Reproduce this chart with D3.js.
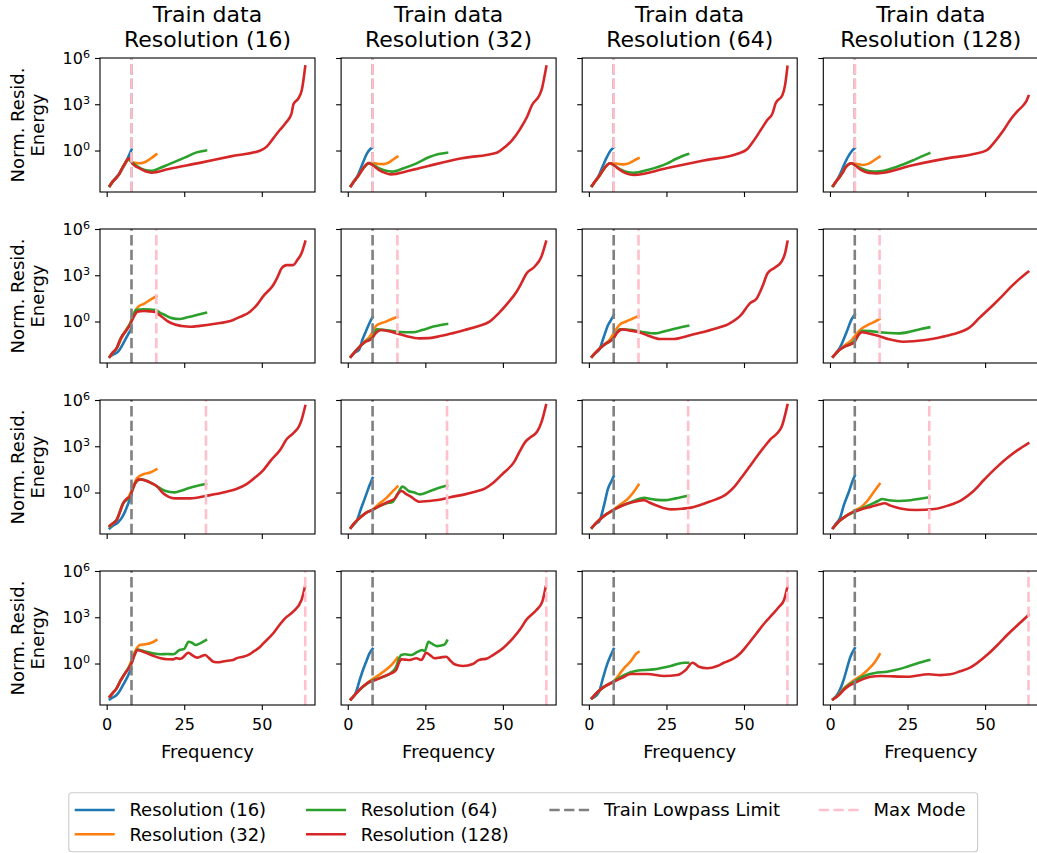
<!DOCTYPE html>
<html>
<head>
<meta charset="utf-8">
<script src="https://cdn.jsdelivr.net/npm/d3@7"></script>
<style>
  body { margin: 0; background: #fff; }
  text { font-family: "DejaVu Sans", sans-serif; fill: #000; }
</style>
</head>
<body>
<svg id="chart" width="1037" height="853"></svg>
<script>
// Rows: model max mode; columns: resolution of the training data.
const maxModes = [8, 16, 32, 64];
const trainResolutions = [16, 32, 64, 128];
const evalResolutions = [16, 32, 64, 128];
const seriesColors = ["#1f77b4", "#ff7f0e", "#2ca02c", "#d62728"];
const lowpassLimit = 8;
const xTickValues = [0, 25, 50];
const yTickValues = [1e0, 1e3, 1e6];
const xLimits = [-2.15, 67.15];
const yLimits = [Math.pow(10, -2.69), 1e6];

// Each series: [frequency, log10 of normalized residual energy]
// ---- max mode 8 ----
const mode8_train16_eval16 = [[1,-2.3],[2,-2.0],[3,-1.75],[4,-1.5],[5,-1.2],[6,-0.85],[7,-0.4],[8,0.05]];
const mode8_train16_eval32 = [[1,-2.3],[2,-2.0],[3,-1.8],[4,-1.55],[5,-1.15],[6,-0.85],[7,-0.6],[8,-0.72],[9,-0.8],[10.5,-0.83],[12,-0.78],[14,-0.55],[16,-0.25]];
const mode8_train16_eval64 = [[1,-2.3],[2,-2.0],[3,-1.8],[4,-1.55],[5,-1.15],[6,-0.8],[7,-0.55],[8,-0.75],[10,-1.05],[12,-1.25],[14.5,-1.32],[17,-1.15],[20,-0.9],[25.8,-0.4],[29,-0.12],[32,0.0]];
const mode8_train16_eval128 = [[1,-2.28],[2,-2.0],[3,-1.8],[4,-1.55],[5,-1.15],[6,-0.8],[7,-0.52],[7.5,-0.5],[8,-0.75],[9,-0.98],[10.7,-1.16],[12.5,-1.35],[14.5,-1.44],[20,-1.2],[30,-0.8],[40,-0.38],[49.4,-0.01],[51.6,0.25],[53.7,0.79],[55.8,1.33],[58,1.86],[59.6,2.41],[60.2,3.0],[61.8,3.38],[62.9,3.92],[64,5.45]];

const mode8_train32_eval16 = [[1,-2.3],[2,-2.0],[3,-1.7],[4.6,-0.94],[6.2,-0.18],[7.2,0.08],[8,0.2]];
const mode8_train32_eval32 = [[1,-2.3],[2,-2.0],[3,-1.75],[4,-1.45],[5,-1.15],[6.8,-0.82],[8,-0.8],[10,-0.87],[11.6,-0.88],[13,-0.8],[14.5,-0.6],[16,-0.4]];
const mode8_train32_eval64 = [[1,-2.3],[2,-2.0],[3,-1.75],[4,-1.45],[5,-1.15],[6.8,-0.82],[8,-0.92],[10,-1.15],[12,-1.3],[14.3,-1.37],[18,-1.15],[22,-0.85],[26.1,-0.44],[29.3,-0.23],[32,-0.14]];
const mode8_train32_eval128 = [[1,-2.3],[2,-2.0],[3,-1.75],[4,-1.45],[5,-1.15],[6,-0.9],[6.8,-0.82],[8,-0.95],[10,-1.25],[12,-1.45],[13.8,-1.55],[20,-1.3],[26,-1.0],[36.8,-0.5],[48,-0.14],[50.8,0.25],[53,0.68],[55.7,1.44],[57.8,2.19],[59.4,2.95],[61.8,3.6],[62.6,4.03],[63.3,4.7],[64,5.45]];

const mode8_train64_eval16 = [[1,-2.3],[2,-2.0],[3,-1.7],[4.5,-1.0],[6,-0.35],[7,0.0],[8,0.2]];
const mode8_train64_eval32 = [[1,-2.3],[2,-2.0],[3,-1.75],[4,-1.45],[5,-1.15],[6.8,-0.83],[8,-0.83],[10,-0.88],[11.3,-0.9],[13,-0.82],[14.5,-0.65],[16,-0.5]];
const mode8_train64_eval64 = [[1,-2.3],[2,-2.0],[3,-1.75],[4,-1.45],[5,-1.15],[6.8,-0.83],[8,-0.95],[10,-1.2],[12,-1.38],[14.5,-1.44],[18.9,-1.26],[25.3,-0.83],[28,-0.55],[30,-0.37],[32,-0.23]];
const mode8_train64_eval128 = [[1,-2.28],[2,-2.0],[3,-1.75],[4,-1.45],[5,-1.15],[6,-0.92],[6.8,-0.83],[8,-0.95],[10,-1.25],[12,-1.48],[14.5,-1.59],[25,-1.15],[37,-0.65],[48.4,-0.18],[51,0.08],[53,0.6],[55.4,1.33],[57.5,1.98],[59.2,2.41],[60.2,3.06],[62.4,3.6],[63.2,4.2],[64,5.43]];

const mode8_train128_eval16 = [[1,-2.3],[2,-2.0],[3,-1.65],[4.5,-0.95],[6,-0.35],[7,-0.05],[8,0.16]];
const mode8_train128_eval32 = [[1,-2.3],[2,-2.0],[3,-1.75],[4,-1.45],[5,-1.1],[6.9,-0.83],[8,-0.85],[9.5,-0.9],[10.6,-0.94],[12.5,-0.85],[14.5,-0.6],[16,-0.4]];
const mode8_train128_eval64 = [[1,-2.3],[2,-2.0],[3,-1.75],[4,-1.45],[5,-1.1],[6.9,-0.83],[8,-0.95],[10,-1.15],[12.5,-1.33],[15,-1.37],[21.6,-1.05],[27,-0.62],[30,-0.35],[32,-0.18]];
const mode8_train128_eval128 = [[1,-2.28],[2,-2.0],[3,-1.75],[4,-1.45],[5,-1.1],[6,-0.9],[6.9,-0.83],[8,-0.95],[10,-1.25],[12.5,-1.45],[15.2,-1.48],[27,-0.94],[37.7,-0.51],[46.3,-0.23],[50.6,0.03],[52.7,0.47],[56,1.33],[58.1,1.98],[60.3,2.52],[62.4,2.95],[63.3,3.2],[64,3.53]];

// ---- max mode 16 ----
const mode16_train16_eval16 = [[1,-2.28],[2,-2.15],[3.7,-1.96],[5,-1.55],[5.9,-1.2],[7,-0.8],[8,-0.44]];
const mode16_train16_eval32 = [[1,-2.28],[2,-2.0],[3.2,-1.74],[5,-1.0],[6.4,-0.5],[7.5,-0.15],[8,0.1],[9,0.6],[10.2,0.96],[12,1.15],[14,1.4],[16,1.65]];
const mode16_train16_eval64 = [[1,-2.28],[2,-2.0],[3.2,-1.74],[4.5,-1.1],[6.4,-0.55],[8,0.05],[9.4,0.75],[12,0.8],[15.8,0.75],[17,0.6],[18.8,0.42],[21,0.22],[23.6,0.16],[26,0.27],[27.9,0.36],[30,0.47],[32,0.57]];
const mode16_train16_eval128 = [[1,-2.28],[2,-2.0],[3.2,-1.74],[4.5,-1.1],[6.4,-0.55],[7.5,-0.23],[8,0.0],[9,0.4],[9.9,0.64],[12,0.68],[14,0.66],[15.8,0.6],[17,0.42],[18.5,0.2],[19.6,0.03],[22,-0.2],[24.2,-0.29],[27,-0.34],[30,-0.28],[34.4,-0.16],[40.8,0.1],[43,0.3],[46.2,0.64],[48.5,1.1],[50.5,1.65],[53.7,2.37],[55,2.85],[56.4,3.45],[58,3.66],[60.1,3.66],[61.5,4.0],[62.8,4.42],[64,5.18]];

const mode16_train32_eval16 = [[1,-2.28],[2,-2.05],[3.6,-1.85],[4.7,-1.2],[5.8,-0.66],[7,-0.1],[8,0.3]];
const mode16_train32_eval32 = [[1,-2.28],[2.8,-1.85],[4,-1.6],[5.7,-1.25],[7,-1.0],[8,-0.66],[9.4,-0.23],[12.3,-0.01],[14,0.15],[16,0.31]];
const mode16_train32_eval64 = [[1,-2.28],[2.8,-1.85],[4,-1.6],[5.7,-1.31],[8,-1.0],[9.4,-0.51],[12,-0.55],[15.9,-0.66],[21,-0.7],[24,-0.55],[27.6,-0.33],[30,-0.22],[32,-0.16]];
const mode16_train32_eval128 = [[1,-2.28],[2.8,-1.85],[4,-1.6],[5.7,-1.31],[7,-1.2],[8,-1.05],[9,-0.75],[10.8,-0.55],[13,-0.62],[15.9,-0.77],[19,-0.95],[23.2,-1.09],[26,-1.08],[29,-0.98],[33,-0.8],[37.7,-0.55],[42,-0.3],[45.7,-0.01],[48.6,0.53],[51.5,1.18],[54.4,1.93],[56,2.5],[57.6,3.12],[60.2,3.55],[62.4,4.2],[63.9,5.18]];

const mode16_train64_eval16 = [[1,-2.28],[2,-2.05],[3.3,-1.85],[4.8,-1.0],[6.2,-0.23],[7.3,0.15],[8,0.42]];
const mode16_train64_eval32 = [[1,-2.28],[3,-1.85],[5,-1.5],[7,-1.1],[8,-0.75],[9.8,-0.23],[12,0.0],[14,0.18],[16,0.36]];
const mode16_train64_eval64 = [[1,-2.28],[3,-1.85],[5,-1.5],[7,-1.25],[8,-1.05],[10,-0.5],[14,-0.55],[18,-0.7],[21.4,-0.77],[25,-0.6],[28,-0.45],[32,-0.27]];
const mode16_train64_eval128 = [[1,-2.28],[3,-1.85],[5,-1.5],[7,-1.25],[8,-1.09],[9,-0.75],[10.9,-0.51],[13,-0.58],[15.6,-0.66],[19,-0.9],[22.9,-1.13],[27.2,-1.13],[33,-0.87],[40,-0.5],[45.4,-0.12],[49,0.42],[51.9,1.18],[54.1,1.5],[56,2.3],[57.6,3.13],[60,3.5],[62.1,3.88],[63.2,4.4],[64,5.18]];

const mode16_train128_eval16 = [[1,-2.28],[2,-2.05],[3.2,-1.7],[5.4,-0.66],[7,0.15],[8,0.45]];
const mode16_train128_eval32 = [[1,-2.28],[3,-1.85],[5,-1.5],[7,-1.2],[8,-0.95],[9.7,-0.55],[12,-0.25],[14,-0.05],[16,0.16]];
const mode16_train128_eval64 = [[1,-2.28],[3,-1.85],[5,-1.6],[7,-1.4],[8,-1.25],[10.4,-0.6],[13,-0.62],[16,-0.7],[22,-0.77],[26,-0.65],[29,-0.5],[32,-0.38]];
const mode16_train128_eval128 = [[1,-2.28],[3,-1.85],[5,-1.6],[7,-1.45],[8,-1.31],[9,-0.9],[10.4,-0.7],[12.5,-0.78],[15.5,-0.92],[19,-1.15],[23.5,-1.31],[30.7,-1.2],[35,-1.05],[39.5,-0.83],[45.3,-0.34],[48,0.2],[52.6,1.07],[55,1.55],[58.4,2.26],[61,2.75],[63.9,3.23]];

// ---- max mode 32 ----
const mode32_train16_eval16 = [[1,-2.32],[2,-2.15],[3.7,-1.93],[5,-1.6],[5.9,-1.24],[7,-0.7],[8,-0.16]];
const mode32_train16_eval32 = [[1,-2.2],[2,-2.0],[3.2,-1.78],[5.3,-0.7],[7,-0.3],[8,0.1],[9.8,0.94],[12,1.2],[14,1.3],[16,1.5]];
const mode32_train16_eval64 = [[1,-2.2],[2,-2.0],[3.2,-1.78],[5.3,-0.7],[7.5,-0.27],[8.3,0.16],[9.5,0.7],[11,0.85],[13,0.75],[16.1,0.42],[18.2,0.16],[20,0.05],[22,0.01],[24,0.12],[26.3,0.27],[29,0.42],[32,0.55]];
const mode32_train16_eval128 = [[1,-2.16],[2,-2.0],[3.2,-1.78],[4.2,-1.3],[5.3,-0.7],[6.5,-0.4],[7.5,-0.27],[8.3,0.16],[9.2,0.6],[10.4,0.85],[12.9,0.75],[14.5,0.6],[16.1,0.42],[18.2,-0.05],[20,-0.28],[22,-0.38],[26.9,-0.38],[32.2,-0.21],[38.6,0.05],[42,0.25],[45.1,0.55],[48,1.0],[50.5,1.46],[53,2.1],[55.9,2.76],[58,3.45],[60.1,3.84],[62,4.3],[62.8,4.7],[64,5.61]];

const mode32_train32_eval16 = [[1,-2.28],[2,-2.05],[2.8,-1.89],[4,-1.2],[5.5,-0.38],[7,0.45],[8,0.95]];
const mode32_train32_eval32 = [[1,-2.28],[3,-1.8],[6,-1.3],[8,-1.1],[10,-0.75],[12.3,-0.38],[14,-0.02],[16,0.38]];
const mode32_train32_eval64 = [[1,-2.28],[3,-1.8],[6,-1.3],[8,-1.13],[10,-0.9],[12.5,-0.7],[14.5,-0.6],[16,-0.1],[17.7,0.38],[19.6,0.1],[21.5,0.0],[23.2,-0.12],[26,0.05],[29,0.28],[32,0.45]];
const mode32_train32_eval128 = [[1,-2.28],[2,-2.0],[3,-1.8],[4.3,-1.57],[6,-1.3],[7.9,-1.13],[10,-0.9],[13,-0.6],[15.2,-0.38],[16.5,0.0],[17.4,0.1],[18.5,-0.05],[20.3,-0.27],[23.2,-0.6],[26,-0.55],[29,-0.49],[33,-0.3],[37.7,-0.12],[41,0.05],[44.3,0.27],[47,0.65],[50.1,1.25],[53.7,2.0],[55.5,2.7],[57.3,3.3],[59,3.6],[61,3.94],[62.5,4.6],[63.9,5.67]];

const mode32_train64_eval16 = [[1,-2.28],[2,-2.05],[3.3,-1.89],[4.8,-0.9],[6.2,0.27],[7.3,0.75],[8,1.05]];
const mode32_train64_eval32 = [[1,-2.28],[3,-1.85],[5,-1.5],[8,-1.1],[10,-0.8],[12.7,-0.38],[14.5,0.05],[16,0.5]];
const mode32_train64_eval64 = [[1,-2.28],[3,-1.85],[5,-1.5],[8,-1.13],[10,-0.9],[12.7,-0.7],[15,-0.5],[17.8,-0.34],[20,-0.42],[23,-0.49],[25,-0.49],[28,-0.38],[32,-0.21]];
const mode32_train64_eval128 = [[1,-2.28],[3,-1.85],[5,-1.5],[8,-1.13],[10,-0.92],[12.7,-0.7],[15,-0.58],[17.8,-0.49],[19.5,-0.65],[21.4,-0.81],[24,-1.0],[26.5,-1.09],[30,-1.05],[33,-0.98],[38.8,-0.6],[44.7,-0.05],[47,0.4],[49,0.92],[51.5,1.6],[54.1,2.32],[57,3.08],[58.5,3.45],[60.7,3.84],[62.2,4.3],[64,5.67]];

const mode32_train128_eval16 = [[1,-2.3],[2,-2.0],[3.2,-1.67],[4.5,-0.8],[6.1,0.05],[7.2,0.7],[8,1.09]];
const mode32_train128_eval32 = [[1,-2.3],[3,-1.85],[5,-1.55],[7,-1.3],[8,-1.15],[10,-0.95],[12,-0.55],[14,0.0],[16,0.55]];
const mode32_train128_eval64 = [[1,-2.3],[3,-1.85],[5,-1.55],[8,-1.24],[10,-1.05],[13.3,-0.75],[15.5,-0.55],[16.8,-0.42],[19,-0.5],[22,-0.55],[26,-0.5],[29,-0.4],[32,-0.31]];
const mode32_train128_eval128 = [[1,-2.3],[3,-1.85],[5,-1.55],[6.5,-1.35],[8,-1.24],[10,-1.1],[13.3,-0.92],[15.5,-0.8],[17.6,-0.7],[19.5,-0.85],[22.7,-1.03],[27.8,-1.13],[33.6,-1.07],[38,-0.85],[42.4,-0.49],[46,0.05],[49.6,0.81],[53,1.5],[57.6,2.32],[60.5,2.75],[63.9,3.19]];

// ---- max mode 64 ----
const mode64_train16_eval16 = [[1,-2.32],[2,-2.2],[3.2,-2.04],[4.3,-1.75],[5.3,-1.39],[6.5,-0.95],[7.5,-0.53],[8,-0.35]];
const mode64_train16_eval32 = [[1,-2.15],[2,-1.9],[3.2,-1.61],[4.5,-1.1],[5.9,-0.64],[7,-0.3],[8,0.2],[9.4,0.88],[10.7,1.2],[12.5,1.25],[14,1.31],[15.5,1.45],[16,1.52]];
const mode64_train16_eval64 = [[1,-2.15],[2,-1.9],[3.2,-1.61],[4.5,-1.1],[5.9,-0.64],[8,0.05],[9.9,0.9],[12,0.8],[14.5,0.68],[17.4,0.6],[19.5,0.62],[21.5,0.6],[23.5,0.88],[25,0.95],[26.4,1.41],[27.5,1.35],[28.7,1.2],[30.1,1.31],[31,1.4],[32,1.52]];
const mode64_train16_eval128 = [[1,-2.15],[2,-1.9],[3.2,-1.61],[4.5,-1.1],[5.9,-0.64],[7,-0.35],[8,0.01],[9,0.55],[9.9,0.88],[11.5,0.78],[13.1,0.66],[15,0.5],[17.4,0.34],[19.5,0.28],[21.5,0.27],[22.5,0.35],[23.5,0.3],[24.2,0.34],[26.4,0.7],[27.5,0.55],[29.2,0.38],[30.5,0.47],[31.7,0.55],[33,0.35],[34.4,0.12],[36,0.08],[37.1,0.12],[39,0.18],[40.8,0.23],[42,0.35],[44,0.44],[46,0.6],[47.3,0.77],[49,1.0],[50.5,1.31],[53.7,1.96],[55.5,2.45],[57.5,2.93],[60.1,3.36],[62.8,4.12],[63.9,4.98]];

const mode64_train32_eval16 = [[1,-2.32],[2,-2.1],[2.7,-1.83],[3.8,-1.1],[4.9,-0.42],[6,0.15],[7,0.66],[8,0.95]];
const mode64_train32_eval32 = [[1,-2.32],[2.7,-1.93],[5.5,-1.4],[7,-1.15],[8,-1.0],[10,-0.75],[12.9,-0.31],[14.5,0.0],[16,0.38]];
const mode64_train32_eval64 = [[1,-2.32],[2.7,-1.93],[5.5,-1.4],[8,-1.1],[11.5,-0.86],[14,-0.6],[15.6,-0.21],[16.5,0.3],[17.2,0.55],[18.5,0.6],[20.5,0.55],[22.6,0.77],[24,0.88],[24.8,0.8],[26,1.41],[27,1.3],[28.7,1.13],[30.8,1.2],[31.5,1.3],[32,1.48]];
const mode64_train32_eval128 = [[1,-2.32],[2,-2.1],[2.7,-1.93],[4,-1.65],[5.5,-1.4],[7,-1.18],[8.5,-1.1],[10.2,-0.96],[12,-0.8],[14,-0.64],[15.6,-0.42],[16.5,0.05],[17.2,0.27],[18.5,0.25],[19.9,0.23],[22.1,0.34],[23.7,0.23],[25.3,0.7],[26.5,0.55],[28,0.34],[30,0.4],[31.8,0.44],[33,0.2],[34.4,-0.05],[37.1,-0.16],[40.3,-0.03],[42,0.2],[43,0.27],[44.5,0.3],[46.8,0.55],[50,0.99],[53.2,1.63],[55.5,2.2],[57.5,2.82],[60.8,3.47],[62.7,4.01],[63.8,4.98]];

const mode64_train64_eval16 = [[1,-2.25],[1.6,-2.2],[3.3,-1.83],[4.6,-0.9],[6,0.01],[7.2,0.6],[8,0.95]];
const mode64_train64_eval32 = [[1,-2.25],[2.9,-1.83],[5,-1.5],[8,-1.15],[11.3,-0.31],[13.5,0.15],[15.4,0.66],[16,0.75]];
const mode64_train64_eval64 = [[1,-2.25],[2.9,-1.83],[5,-1.5],[8,-1.15],[11.3,-0.75],[15.4,-0.47],[21,-0.38],[26.4,-0.16],[30.7,0.05],[32,0.05]];
const mode64_train64_eval128 = [[1,-2.25],[2.9,-1.83],[5,-1.5],[8.1,-1.18],[10.5,-0.95],[13.5,-0.68],[18.9,-0.68],[24.2,-0.81],[28.5,-0.75],[31.2,-0.42],[33.4,0.05],[35.5,-0.21],[38.2,-0.31],[41.4,-0.16],[43.5,0.05],[46.8,0.34],[49,0.7],[51.1,1.2],[54,1.95],[57,2.71],[59,3.15],[61.3,3.68],[62.9,4.12],[64,4.98]];

const mode64_train128_eval16 = [[1,-2.32],[2.9,-1.83],[4.4,-1.07],[5.5,-0.3],[6.6,0.44],[8,0.99]];
const mode64_train128_eval32 = [[1,-2.32],[2.9,-2.0],[4.5,-1.6],[6.6,-1.25],[7.8,-1.07],[10.3,-0.75],[12.5,-0.35],[14.5,0.1],[16,0.6]];
const mode64_train128_eval64 = [[1,-2.32],[2.9,-2.0],[5,-1.55],[8,-1.15],[11.9,-0.75],[14.5,-0.62],[18.4,-0.53],[21,-0.42],[24.2,-0.25],[28,0.0],[32,0.23]];
const mode64_train128_eval128 = [[1,-2.32],[2.9,-2.04],[4.5,-1.7],[6.6,-1.39],[8.8,-1.18],[13.1,-0.86],[16.3,-0.81],[24.9,-0.86],[31.8,-0.7],[35.6,-0.75],[38.8,-0.7],[42,-0.5],[45.3,-0.25],[50.6,0.55],[54,1.2],[57.1,1.85],[60,2.4],[64,3.15]];

// Lookup of all series by name.
const seriesTable = {
  mode8_train16_eval16, mode8_train16_eval32, mode8_train16_eval64, mode8_train16_eval128,
  mode8_train32_eval16, mode8_train32_eval32, mode8_train32_eval64, mode8_train32_eval128,
  mode8_train64_eval16, mode8_train64_eval32, mode8_train64_eval64, mode8_train64_eval128,
  mode8_train128_eval16, mode8_train128_eval32, mode8_train128_eval64, mode8_train128_eval128,
  mode16_train16_eval16, mode16_train16_eval32, mode16_train16_eval64, mode16_train16_eval128,
  mode16_train32_eval16, mode16_train32_eval32, mode16_train32_eval64, mode16_train32_eval128,
  mode16_train64_eval16, mode16_train64_eval32, mode16_train64_eval64, mode16_train64_eval128,
  mode16_train128_eval16, mode16_train128_eval32, mode16_train128_eval64, mode16_train128_eval128,
  mode32_train16_eval16, mode32_train16_eval32, mode32_train16_eval64, mode32_train16_eval128,
  mode32_train32_eval16, mode32_train32_eval32, mode32_train32_eval64, mode32_train32_eval128,
  mode32_train64_eval16, mode32_train64_eval32, mode32_train64_eval64, mode32_train64_eval128,
  mode32_train128_eval16, mode32_train128_eval32, mode32_train128_eval64, mode32_train128_eval128,
  mode64_train16_eval16, mode64_train16_eval32, mode64_train16_eval64, mode64_train16_eval128,
  mode64_train32_eval16, mode64_train32_eval32, mode64_train32_eval64, mode64_train32_eval128,
  mode64_train64_eval16, mode64_train64_eval32, mode64_train64_eval64, mode64_train64_eval128,
  mode64_train128_eval16, mode64_train128_eval32, mode64_train128_eval64, mode64_train128_eval128
};

// ---- layout ----
const svg = d3.select("#chart");
const panelW = 215, panelH = 134;
const colStep = 241.1, rowStep = 171;
const firstLeft = 100, firstTop = 58;
const lineWidth = 2.6;
const dashPattern = "10.3,4.4";

const FONT_TITLE = 22, FONT_LABEL = 18, FONT_TICK = 16, FONT_LEGEND = 18;

maxModes.forEach((mode, r) => {
  trainResolutions.forEach((train, c) => {
    const left = firstLeft + c * colStep;
    const top = firstTop + r * rowStep;
    const x = d3.scaleLinear().domain(xLimits).range([left, left + panelW]);
    const y = d3.scaleLog().domain(yLimits).range([top + panelH, top]);

    const g = svg.append("g");

    // curves
    const line = d3.line()
      .x(d => x(d[0]))
      .y(d => y(Math.pow(10, d[1])))
      .curve(d3.curveMonotoneX);

    evalResolutions.forEach((res, k) => {
      const data = seriesTable[`mode${mode}_train${train}_eval${res}`];
      g.append("path")
        .datum(data)
        .attr("d", line)
        .attr("fill", "none")
        .attr("stroke", seriesColors[k])
        .attr("stroke-width", lineWidth)
        .attr("stroke-linejoin", "round")
        .attr("stroke-linecap", "square");
    });

    // vertical markers: training low-pass limit and model max mode
    [[lowpassLimit, "#808080"], [mode, "#ffc0cb"]].forEach(([fx, col]) => {
      g.append("line")
        .attr("x1", x(fx)).attr("x2", x(fx))
        .attr("y1", top + panelH).attr("y2", top)
        .attr("stroke", col)
        .attr("stroke-width", lineWidth)
        .attr("stroke-dasharray", dashPattern);
    });

    // x axis
    const xAxis = d3.axisBottom(x).tickValues(xTickValues).tickSize(5).tickPadding(8.5).tickSizeOuter(0);
    if (r < maxModes.length - 1) xAxis.tickFormat(() => "");
    const gx = g.append("g").attr("transform", `translate(0,${top + panelH})`).call(xAxis);
    gx.select(".domain").remove();
    gx.selectAll(".tick line").attr("stroke", "#000").attr("stroke-width", 1.1);
    gx.selectAll(".tick text").attr("font-size", FONT_TICK).attr("font-family", "DejaVu Sans").attr("fill", "#000");

    // y axis
    const yAxis = d3.axisLeft(y).tickValues(yTickValues).tickSize(5).tickPadding(5).tickSizeOuter(0);
    yAxis.tickFormat(c === 0 ? (d => String(d)) : (() => ""));
    const gy = g.append("g").attr("transform", `translate(${left},0)`).call(yAxis);
    gy.select(".domain").remove();
    gy.selectAll(".tick line").attr("stroke", "#000").attr("stroke-width", 1.1);
    if (c === 0) {
      gy.selectAll(".tick text").each(function(d) {
        const t = d3.select(this);
        t.text("10").attr("font-size", FONT_TICK).attr("font-family", "DejaVu Sans").attr("fill", "#000");
        t.append("tspan")
          .attr("dy", "-0.52em")
          .attr("font-size", "0.7em")
          .text(Math.round(Math.log10(d)));
      });
    }

    // frame
    g.append("rect")
      .attr("x", left).attr("y", top)
      .attr("width", panelW).attr("height", panelH)
      .attr("fill", "none").attr("stroke", "#000").attr("stroke-width", 1.1);

    // column titles
    if (r === 0) {
      const cx = left + panelW / 2;
      g.append("text").attr("x", cx).attr("y", 21.7).attr("text-anchor", "middle")
        .attr("font-size", FONT_TITLE).text("Train data");
      g.append("text").attr("x", cx).attr("y", 46.7).attr("text-anchor", "middle")
        .attr("font-size", FONT_TITLE).text(`Resolution (${train})`);
    }
    // y label
    if (c === 0) {
      const cy = top + panelH / 2;
      const lab = g.append("text")
        .attr("transform", `translate(24,${cy}) rotate(-90)`)
        .attr("text-anchor", "middle")
        .attr("font-size", FONT_LABEL);
      lab.append("tspan").attr("x", 0).attr("y", 0).text("Norm. Resid.");
      lab.append("tspan").attr("x", 0).attr("y", 20).text("Energy");
    }
    // x label
    if (r === maxModes.length - 1) {
      g.append("text").attr("x", left + panelW / 2).attr("y", 757.5)
        .attr("text-anchor", "middle").attr("font-size", FONT_LABEL).text("Frequency");
    }
  });
});

// ---- legend (4 columns, filled column by column: 2, 2, 1, 1) ----
const legendItems = [
  { label: "Resolution (16)", color: seriesColors[0], dash: null, col: 0, row: 0 },
  { label: "Resolution (32)", color: seriesColors[1], dash: null, col: 0, row: 1 },
  { label: "Resolution (64)", color: seriesColors[2], dash: null, col: 1, row: 0 },
  { label: "Resolution (128)", color: seriesColors[3], dash: null, col: 1, row: 1 },
  { label: "Train Lowpass Limit", color: "#808080", dash: dashPattern, col: 2, row: 0 },
  { label: "Max Mode", color: "#ffc0cb", dash: dashPattern, col: 3, row: 0 }
];
const legendColX = [74.7, 306, 549.4, 818.8];
const legendRowY = [810, 834.3];
const legend = svg.append("g");
legend.append("rect")
  .attr("x", 68.8).attr("y", 792.7).attr("width", 977.6 - 68.8).attr("height", 851.7 - 792.7)
  .attr("rx", 3).attr("fill", "#fff").attr("fill-opacity", 0.8)
  .attr("stroke", "#cccccc").attr("stroke-width", 1.1);
legendItems.forEach(item => {
  const lx = legendColX[item.col], ly = legendRowY[item.row];
  legend.append("line")
    .attr("x1", lx).attr("x2", lx + 40).attr("y1", ly).attr("y2", ly)
    .attr("stroke", item.color).attr("stroke-width", lineWidth)
    .attr("stroke-dasharray", item.dash);
  legend.append("text")
    .attr("x", lx + 54.7).attr("y", ly).attr("dy", "0.36em")
    .attr("font-size", FONT_LEGEND).text(item.label);
});
</script>
</body>
</html>
